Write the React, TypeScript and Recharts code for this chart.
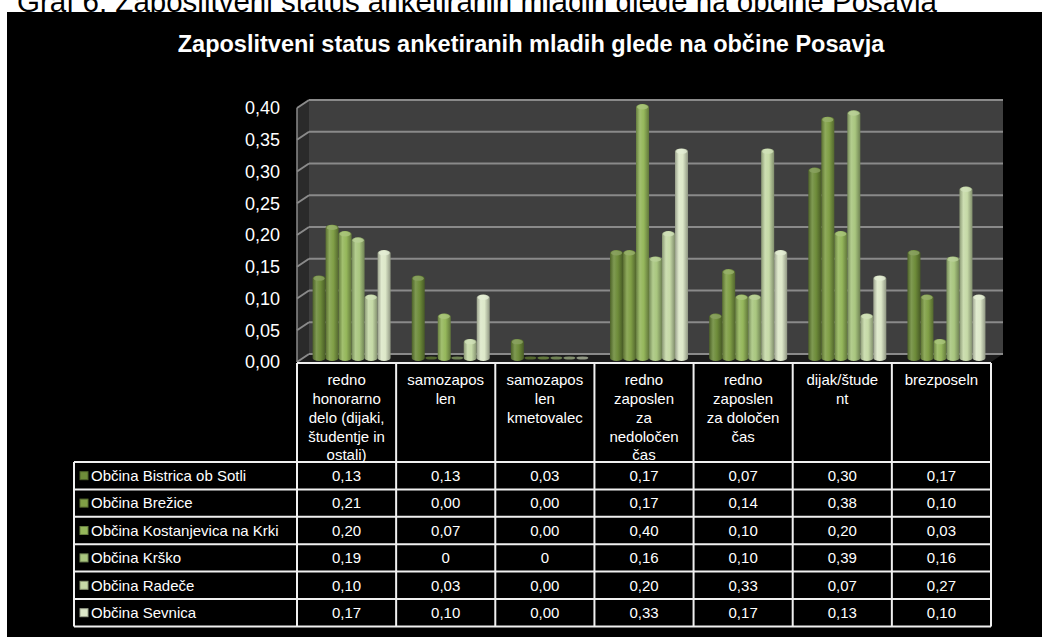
import React from 'react';
import { BarChart, Bar, XAxis, YAxis, Customized } from 'recharts';

// categories, with the line breaks used in the table header
const categoryLines: string[][] = [
  ['redno', 'honorarno', 'delo (dijaki,', 'študentje in', 'ostali)'],
  ['samozapos', 'len'],
  ['samozapos', 'len', 'kmetovalec'],
  ['redno', 'zaposlen', 'za', 'nedoločen', 'čas'],
  ['redno', 'zaposlen', 'za določen', 'čas'],
  ['dijak/štude', 'nt'],
  ['brezposeln'],
];

const seriesNames = [
  'Občina Bistrica ob Sotli',
  'Občina Brežice',
  'Občina Kostanjevica na Krki',
  'Občina Krško',
  'Občina Radeče',
  'Občina Sevnica',
];

// values as printed in the data table
const bistrica = ['0,13', '0,13', '0,03', '0,17', '0,07', '0,30', '0,17'];
const brezice = ['0,21', '0,00', '0,00', '0,17', '0,14', '0,38', '0,10'];
const kostanjevica = ['0,20', '0,07', '0,00', '0,40', '0,10', '0,20', '0,03'];
const krsko = ['0,19', '0', '0', '0,16', '0,10', '0,39', '0,16'];
const radece = ['0,10', '0,03', '0,00', '0,20', '0,33', '0,07', '0,27'];
const sevnica = ['0,17', '0,10', '0,00', '0,33', '0,17', '0,13', '0,10'];

const yTicks = [0, 0.05, 0.1, 0.15, 0.2, 0.25, 0.3, 0.35, 0.4];

const seriesColors = ['#6e8c3a', '#809f46', '#95b75b', '#a9c67f', '#c6daa7', '#dde8c9'];

const seriesValues = [bistrica, brezice, kostanjevica, krsko, radece, sevnica];
const toNum = (s: string) => parseFloat(s.replace(',', '.'));
const fmt = (v: number) => v.toFixed(2).replace('.', ',');

const data = categoryLines.map((lines, i) => {
  const row: Record<string, any> = { name: lines.join(' ') };
  seriesValues.forEach((vals, s) => {
    row['s' + s] = toNum(vals[i]);
  });
  return row;
});

// layout (chart coordinates)
const W = 1035;
const H = 625;
const PL = 296;
const PT = 92;
const PW = 694;
const PH = 254;
const DX = 6;
const DY = 4;
const YMAX = 0.4;
const FONT = '"Liberation Sans", Arial, sans-serif';

const yPos = (v: number) => PT + PH * (1 - v / YMAX);

function shade(hex: string, amt: number) {
  const n = parseInt(hex.slice(1), 16);
  const ch = [(n >> 16) & 255, (n >> 8) & 255, n & 255].map((c) =>
    Math.round(amt >= 0 ? c + (255 - c) * amt : c * (1 + amt))
  );
  return '#' + ch.map((c) => c.toString(16).padStart(2, '0')).join('');
}

function Cylinder(props: any) {
  const { x, y, width, height, s } = props;
  const rx = width / 2;
  const ry = 3;
  const c = seriesColors[s];
  if (!height || height < 1) {
    return <ellipse cx={x + rx} cy={y} rx={rx - 0.5} ry={1.6} fill={shade(c, -0.35)} />;
  }
  const d = `M${x},${y + ry} A${rx},${ry} 0 0 1 ${x + width},${y + ry} L${x + width},${y + height} A${rx},${ry} 0 0 1 ${x},${y + height} Z`;
  return (
    <g>
      <path d={d} fill={`url(#cyl${s})`} />
      <ellipse cx={x + rx} cy={y + ry} rx={rx - 1} ry={ry - 0.6} fill={shade(c, 0.2)} opacity={0.8} />
    </g>
  );
}

function Walls() {
  const gridColor = '#8a8a8a';
  return (
    <g>
      <rect x={PL + DX} y={PT - DY} width={PW} height={PH} fill="#3f3f3f" />
      <polygon
        points={`${PL - DX},${PT + DY} ${PL + DX},${PT - DY} ${PL + DX},${PT + PH - DY} ${PL - DX},${PT + PH + DY}`}
        fill="#2a2a2a"
      />
      <polygon
        points={`${PL - DX},${PT + PH + DY} ${PL + DX},${PT + PH - DY} ${PL + PW + DX},${PT + PH - DY} ${PL + PW - DX},${PT + PH + DY}`}
        fill="#1c1c1c"
      />
      {yTicks.map((t) => {
        const y = yPos(t);
        return (
          <g key={t}>
            <line x1={PL + DX} y1={y - DY} x2={PL + PW + DX} y2={y - DY} stroke={gridColor} strokeWidth={2} />
            <line x1={PL - DX} y1={y + DY} x2={PL + DX} y2={y - DY} stroke={gridColor} strokeWidth={2} />
          </g>
        );
      })}
      <line x1={PL - DX} y1={PT + DY} x2={PL - DX} y2={PT + PH + DY} stroke={gridColor} strokeWidth={1.5} />
    </g>
  );
}

function DataTable() {
  const TL = 67;
  const FL = PL - DX;
  const CW = PW / categoryLines.length;
  const FR = FL + PW;
  const HT = PT + PH + DY + 1;
  const HB = 450;
  const RH = 27.4;
  const TB = HB + RH * seriesNames.length;
  const stroke = '#f0f0f0';
  return (
    <g fontFamily={FONT} fontSize={15} fill="#fff">
      <line x1={FL} y1={HT} x2={FR} y2={HT} stroke={stroke} strokeWidth={2} />
      {seriesNames.map((_, r) => (
        <line key={'h' + r} x1={TL} y1={HB + r * RH} x2={FR} y2={HB + r * RH} stroke={stroke} strokeWidth={2} />
      ))}
      <line x1={TL} y1={TB} x2={FR} y2={TB} stroke={stroke} strokeWidth={2} />
      <line x1={TL} y1={HB} x2={TL} y2={TB} stroke={stroke} strokeWidth={2} />
      {categoryLines.map((_, j) => (
        <line key={'v' + j} x1={FL + j * CW} y1={HT} x2={FL + j * CW} y2={TB} stroke={stroke} strokeWidth={2} />
      ))}
      <line x1={FR} y1={HT} x2={FR} y2={TB} stroke={stroke} strokeWidth={2} />
      {categoryLines.map((lines, j) =>
        lines.map((ln, k) => (
          <text
            key={'c' + j + k}
            x={FL + (j + 0.5) * CW}
            y={HT + 17 + k * 18.75}
            dy="0.35em"
            textAnchor="middle"
          >
            {ln}
          </text>
        ))
      )}
      {seriesNames.map((nm, r) => {
        const cy = HB + (r + 0.5) * RH;
        return (
          <g key={nm}>
            <rect x={TL + 6} y={cy - 4} width={8} height={8} fill={seriesColors[r]} stroke={shade(seriesColors[r], -0.3)} strokeWidth={1} />
            <text x={TL + 17} y={cy} dy="0.35em">
              {nm}
            </text>
            {seriesValues[r].map((v, j) => (
              <text key={j} x={FL + (j + 0.5) * CW} y={cy} dy="0.35em" textAnchor="middle">
                {v}
              </text>
            ))}
          </g>
        );
      })}
    </g>
  );
}

const YTick = ({ x, y, payload }: any) => (
  <text x={x} y={y + 4} dy="0.35em" textAnchor="end" fill="#fff" fontSize={18} fontFamily={FONT}>
    {fmt(payload.value)}
  </text>
);

export default function App() {
  return (
    <div style={{ position: 'absolute', left: 0, top: 0, width: 1042, height: 637, overflow: 'hidden', background: '#fff' }}>
      <div
        style={{
          position: 'absolute',
          left: 17,
          top: -13,
          fontFamily: FONT,
          fontSize: 29.5,
          lineHeight: '29px',
          color: '#000',
          whiteSpace: 'nowrap',
        }}
      >
        Graf 6: Zaposlitveni status anketiranih mladih glede na občine Posavja
      </div>
      <div style={{ position: 'absolute', left: 7, top: 12, width: W, height: H, background: '#000' }}>
        <BarChart
          width={W}
          height={H}
          data={data}
          margin={{ top: PT, right: W - PL - PW, bottom: H - PT - PH, left: PL - 60 }}
          barCategoryGap={9.6}
          barGap={0}
        >
          <defs>
            {seriesColors.map((c, s) => (
              <linearGradient key={s} id={`cyl${s}`} x1="0" y1="0" x2="1" y2="0">
                <stop offset="0%" stopColor={shade(c, -0.3)} />
                <stop offset="30%" stopColor={shade(c, 0.12)} />
                <stop offset="60%" stopColor={c} />
                <stop offset="100%" stopColor={shade(c, -0.35)} />
              </linearGradient>
            ))}
          </defs>
          <Customized component={Walls} />
          <XAxis dataKey="name" hide />
          <YAxis
            domain={[0, YMAX]}
            ticks={yTicks}
            width={60}
            axisLine={false}
            tickLine={false}
            tickSize={0}
            tickMargin={23}
            tick={<YTick />}
            interval={0}
          />
          {seriesNames.map((nm, s) => (
            <Bar
              key={nm}
              dataKey={'s' + s}
              name={nm}
              isAnimationActive={false}
              shape={(p: any) => <Cylinder {...p} s={s} />}
            />
          ))}
          <Customized component={DataTable} />
          <text x={524} y={40} textAnchor="middle" fill="#fff" fontSize={23.5} fontWeight="bold" fontFamily={FONT}>
            Zaposlitveni status anketiranih mladih glede na občine Posavja
          </text>
        </BarChart>
      </div>
    </div>
  );
}
